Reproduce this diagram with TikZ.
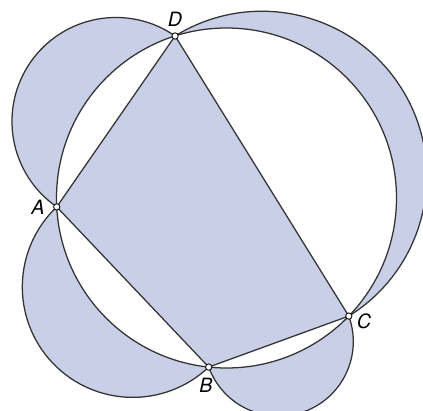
\documentclass[tikz,border=0pt]{standalone}
\usepackage{fontspec}
\setsansfont{TeX Gyre Heros}
\usetikzlibrary{calc}
\definecolor{lunefill}{RGB}{200,207,230}
\definecolor{edgegray}{HTML}{333333}
\tikzset{
  outline/.style={draw=edgegray, line width=0.9pt},
  lune/.style={fill=lunefill},
  dot/.style={circle, draw=black, fill=white, line width=0.6pt, inner sep=0pt, minimum size=4.5pt},
  lbl/.style={font=\fontsize{14}{16}\selectfont\sffamily\itshape, inner sep=1pt}
}
\begin{document}
\begin{tikzpicture}[x=0.025cm, y=0.025cm]
  \useasboundingbox (0,0) rectangle (423,410);
  \clip (0,0) rectangle (423,410);
  % circle and the four vertices on it
  \coordinate (O) at (226.5,212);
  \coordinate (A) at ($(O)+(183:170)$);
  \coordinate (B) at ($(O)+(264:170)$);
  \coordinate (C) at ($(O)+(316:170)$);
  \coordinate (D) at ($(O)+(107.6:170)$);
  % half discs on the sides
  \foreach \p/\a/\b in {A/183/264, B/264/316, C/316/467.6, D/107.6/183}{
    \pgfmathsetmacro\startang{(\a+\b)/2-90}
    \pgfmathsetmacro\rlune{170*sin((\b-\a)/2)}
    \filldraw[lune, outline] (\p) arc[start angle=\startang, delta angle=180, radius=\rlune];
  }
  \fill[white] (O) circle[radius=170];
  \filldraw[lune, outline] (A) -- (B) -- (C) -- (D) -- cycle;
  \draw[outline] (O) circle[radius=170];
  % vertices
  \node[dot, label={[lbl, label distance=5pt]left:A}] (a) at (A) {};
  \node[dot, label={[lbl, label distance=4pt, xshift=-2pt]below:B}] (b) at (B) {};
  \node[dot, label={[lbl, label distance=2pt, yshift=-4pt]right:C}] (c) at (C) {};
  \node[dot, label={[lbl, label distance=3pt]above:D}] (d) at (D) {};
\end{tikzpicture}
\end{document}
